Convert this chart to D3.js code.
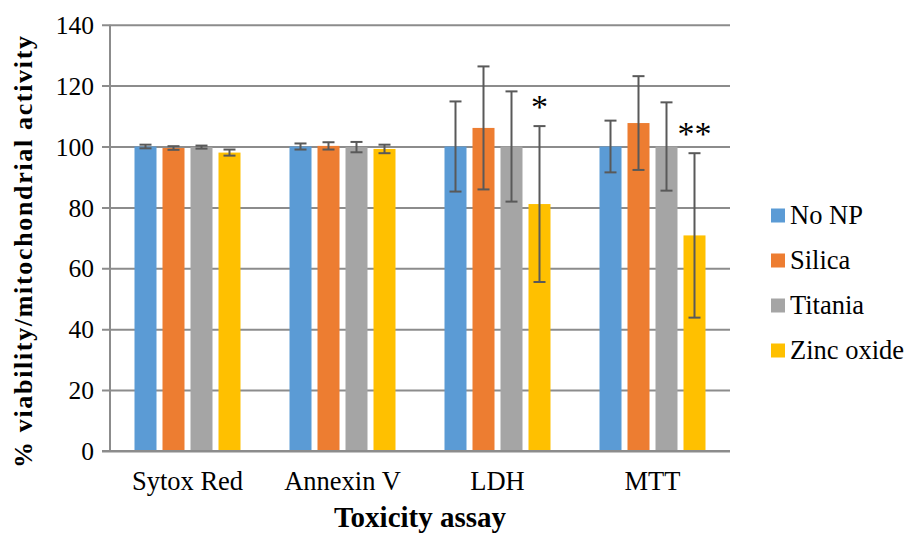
<!DOCTYPE html>
<html>
<head>
<meta charset="utf-8">
<script src="https://cdn.jsdelivr.net/npm/d3@7"></script>
<style>
  body { margin: 0; background: #fff; }
  svg text { font-family: "Liberation Serif", "Times New Roman", serif; fill: #000; }
</style>
</head>
<body>
<svg id="chart" width="906" height="537"></svg>
<script>
// data
var assays = ["Sytox Red", "Annexin V", "LDH", "MTT"];
var series = ["No NP", "Silica", "Titania", "Zinc oxide"];
var colors = ["#5B9BD5", "#ED7D31", "#A5A5A5", "#FFC000"];
// one row per assay, one value per series
var means = [
    [100, 99.5, 99.8, 98.0],
    [100, 100.2, 99.8, 99.2],
    [100, 106.1, 100, 81.1],
    [100, 107.7, 100, 70.8]
];
var errors = [
    [0.6, 0.6, 0.5, 1.0],
    [1.0, 1.2, 1.7, 1.4],
    [14.8, 20.2, 18.1, 25.6],
    [8.5, 15.4, 14.5, 27.0]
];
// significance marks (assay, series, label)
var marks = [
    {assay: "LDH", series: "Zinc oxide", label: "*"},
    {assay: "MTT", series: "Zinc oxide", label: "**"}
];
var yTicks = [0, 20, 40, 60, 80, 100, 120, 140];

(function() {
var svg = d3.select("#chart");
var plotLeft = 110, plotRight = 730, plotTop = 24.7, plotBottom = 451;

var x0 = d3.scaleBand().domain(assays).range([plotLeft, plotRight]);
var x1 = d3.scaleBand().domain(series).range([0, 106]).paddingInner(6 / 28);
var y = d3.scaleLinear().domain([0, 140]).range([plotBottom, plotTop]);
var color = d3.scaleOrdinal().domain(series).range(colors);

var groupOffset = x0.bandwidth() / 2 - 53;

/*
gridlines + y ticks
*/
var yAxis = d3.axisLeft(y)
    .tickValues(yTicks)
    .tickSize(-(plotRight - plotLeft))
    .tickSizeOuter(0)
    .tickPadding(16)
    .tickFormat(d3.format("d"));

var gy = svg.append("g")
    .attr("transform", "translate(" + plotLeft + ",0)")
    .call(yAxis);
gy.select(".domain").remove();
gy.selectAll(".tick line")
    .attr("x1", -8)
    .attr("stroke", "#8C8C8C")
    .attr("stroke-width", 2);
gy.selectAll(".tick text")
    .style("font-size", "25.5px")
    .attr("dy", "0.34em");

// vertical axis line
svg.append("line")
    .attr("x1", plotLeft).attr("x2", plotLeft)
    .attr("y1", y(140)).attr("y2", y(0))
    .attr("stroke", "#8C8C8C")
    .attr("stroke-width", 2);

/*
bars
*/
var rows = [];
assays.forEach(function(a, i) {
    series.forEach(function(s, j) {
        rows.push({assay: a, series: s, value: means[i][j], err: errors[i][j]});
    });
});

svg.append("g").selectAll("rect")
    .data(rows)
    .enter().append("rect")
    .attr("x", function(d) { return x0(d.assay) + groupOffset + x1(d.series); })
    .attr("y", function(d) { return y(d.value); })
    .attr("width", x1.bandwidth())
    .attr("height", function(d) { return y(0) - y(d.value); })
    .attr("fill", function(d) { return color(d.series); });

// redraw the zero line over the bars
svg.append("line")
    .attr("x1", plotLeft - 8).attr("x2", plotRight)
    .attr("y1", y(0)).attr("y2", y(0))
    .attr("stroke", "#8C8C8C")
    .attr("stroke-width", 2);

/*
error bars
*/
var errG = svg.append("g")
    .attr("stroke", "#595959")
    .attr("stroke-width", 2)
    .attr("fill", "none");

rows.forEach(function(d) {
    var cx = x0(d.assay) + groupOffset + x1(d.series) + x1.bandwidth() / 2;
    var hi = y(d.value + d.err), lo = y(d.value - d.err);
    errG.append("line").attr("x1", cx).attr("x2", cx).attr("y1", hi).attr("y2", lo);
    errG.append("line").attr("x1", cx - 6).attr("x2", cx + 6).attr("y1", hi).attr("y2", hi);
    errG.append("line").attr("x1", cx - 6).attr("x2", cx + 6).attr("y1", lo).attr("y2", lo);
});

/*
significance stars
*/
marks.forEach(function(m) {
    var r = rows.filter(function(d) { return d.assay == m.assay && d.series == m.series; })[0];
    var cx = x0(r.assay) + groupOffset + x1(r.series) + x1.bandwidth() / 2;
    svg.append("text")
        .attr("x", cx)
        .attr("y", y(r.value + r.err) - 8)
        .attr("text-anchor", "middle")
        .style("font-size", "34px")
        .text(m.label);
});

/*
category labels + axis titles
*/
svg.append("g").selectAll("text")
    .data(assays)
    .enter().append("text")
    .attr("x", function(d) { return x0(d) + x0.bandwidth() / 2; })
    .attr("y", 490)
    .attr("text-anchor", "middle")
    .style("font-size", "26.5px")
    .text(function(d) { return d; });

svg.append("text")
    .attr("x", 420)
    .attr("y", 527)
    .attr("text-anchor", "middle")
    .style("font-size", "29px")
    .style("font-weight", "bold")
    .text("Toxicity assay");

svg.append("text")
    .attr("transform", "translate(32,252) rotate(-90)")
    .attr("text-anchor", "middle")
    .attr("textLength", 432)
    .attr("lengthAdjust", "spacing")
    .style("font-size", "26px")
    .style("font-weight", "bold")
    .text("% viability/mitochondrial activity");

/*
legend
*/
var legend = svg.append("g").selectAll("g")
    .data(series)
    .enter().append("g")
    .attr("transform", function(d, i) { return "translate(771," + (215.5 + i * 45) + ")"; });

legend.append("rect")
    .attr("x", 0).attr("y", -7)
    .attr("width", 14).attr("height", 14)
    .attr("fill", function(d) { return color(d); });

legend.append("text")
    .attr("x", 19)
    .attr("y", 8.5)
    .style("font-size", "26.5px")
    .text(function(d) { return d; });
})();
</script>
</body>
</html>
